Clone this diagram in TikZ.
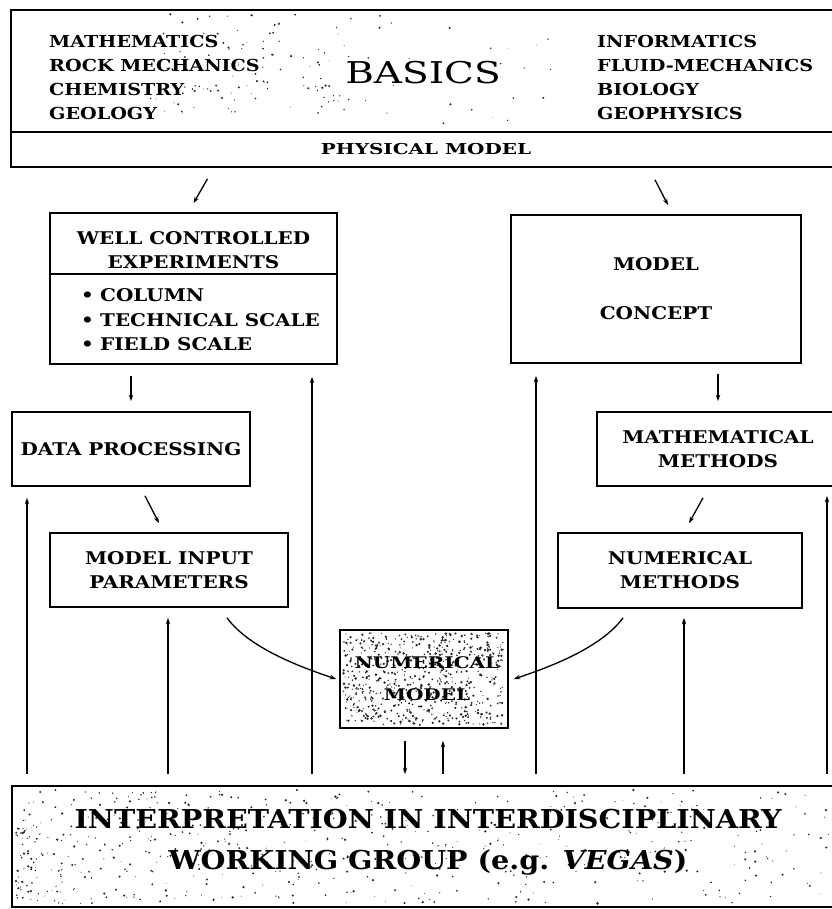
\documentclass[tikz,border=0pt]{standalone}
\usepackage{fontspec}
\setmainfont{DejaVu Serif}
\newfontfamily\lblfont[FakeStretch=1.14]{DejaVu Serif}
\newfontfamily\listfont[FakeStretch=1.16]{DejaVu Serif}
\newfontfamily\physfont[FakeStretch=1.33]{DejaVu Serif}
\newfontfamily\basicsfont[FakeStretch=1.3]{DejaVu Serif}
\newfontfamily\nmfont[FakeStretch=1.25]{DejaVu Serif}
\newfontfamily\bigfont[FakeStretch=1.1]{DejaVu Serif}
\usetikzlibrary{arrows.meta}
\begin{document}
\begin{tikzpicture}[x=1pt,y=-1pt,
  box/.style={draw=black, line width=1.7pt, inner sep=0pt},
  lbl/.style={font=\lblfont\fontsize{17.5}{24}\selectfont\bfseries, align=center, inner sep=0pt},
  arr/.style={line width=1.3pt, -{Stealth[length=6.5pt,width=4.5pt]}},
  dot/.style={fill=black!85}]
\useasboundingbox (0,0) rectangle (831,909);
% boxes
\node[box, minimum width=825pt, minimum height=122pt] (top) at (423.5,71) {};
\node[box, minimum width=825pt, minimum height=35pt, align=center, font=\physfont\fontsize{15}{18}\selectfont\bfseries] (phys) at (423.5,149.5) {\hspace{5pt}PHYSICAL MODEL};
\node[box, minimum width=287pt, minimum height=151pt] (well) at (193.5,288.5) {};
\draw[line width=1.7pt] ([yshift=-62pt]well.north west) -- ([yshift=-62pt]well.north east);
\node[box, minimum width=290pt, minimum height=148pt, lbl] (concept) at (656,289) {MODEL\\[25pt]CONCEPT};
\node[box, minimum width=238pt, minimum height=74pt, lbl] (data) at (131,449) {DATA PROCESSING};
\node[box, minimum width=239pt, minimum height=74pt, lbl] (math) at (716.5,449) {\hspace{3pt}MATHEMATICAL\\\hspace{3pt}METHODS};
\node[box, minimum width=238pt, minimum height=74pt, lbl] (input) at (169,570) {MODEL INPUT\\PARAMETERS};
\node[box, minimum width=244pt, minimum height=75pt, lbl] (nummeth) at (680,570.5) {NUMERICAL\\METHODS};
\node[box, minimum width=168pt, minimum height=98pt] (nummod) at (424,679) {};
\node[box, minimum width=824pt, minimum height=121pt] (bottom) at (424,846.5) {};
% speckles
\pgfmathsetseed{4242}
\foreach \i in {1,...,650} {
  \pgfmathsetmacro\rx{343+160*rnd}
  \pgfmathsetmacro\ry{633+92*rnd}
  \pgfmathsetmacro\rr{0.5+0.9*rnd}
  \fill[dot] (\rx,\ry) circle (\rr pt);
}
\foreach \i in {1,...,560} {
  \pgfmathsetmacro\rx{16+815*(rnd^1.6)}
  \pgfmathsetmacro\ry{790+114*rnd}
  \pgfmathsetmacro\rr{0.4+0.9*rnd}
  \fill[dot] (\rx,\ry) circle (\rr pt);
}
\foreach \i in {1,...,110} {
  \pgfmathsetmacro\rx{150+190*rnd}
  \pgfmathsetmacro\ry{14+100*rnd}
  \pgfmathsetmacro\rr{0.4+0.8*rnd}
  \fill[dot] (\rx,\ry) circle (\rr pt);
}
\foreach \i in {1,...,30} {
  \pgfmathsetmacro\rx{340+240*rnd}
  \pgfmathsetmacro\ry{14+110*rnd}
  \pgfmathsetmacro\rr{0.4+0.7*rnd}
  \fill[dot] (\rx,\ry) circle (\rr pt);
}
% texts
\node[inner sep=0pt, anchor=west, align=left, font=\listfont\fontsize{16.5}{23.7}\selectfont\bfseries] (leftlist) at (49,77.5) {MATHEMATICS\\ROCK MECHANICS\\CHEMISTRY\\GEOLOGY};
\node[inner sep=0pt, anchor=west, align=left, font=\listfont\fontsize{16.5}{23.7}\selectfont\bfseries] (rightlist) at (597,77.5) {INFORMATICS\\FLUID-MECHANICS\\BIOLOGY\\GEOPHYSICS};
\node[inner sep=0pt, font=\basicsfont\fontsize{30}{36}\selectfont] (basics) at (423,73) {BASICS};
\node[lbl] (wellhead) at (193.5,250) {WELL CONTROLLED\\EXPERIMENTS};
\node[lbl, anchor=west, align=left, font=\lblfont\fontsize{17.5}{24.5}\selectfont\bfseries] (welllist) at (81,320) {\makebox[19pt][l]{•}COLUMN\\\makebox[19pt][l]{•}TECHNICAL SCALE\\\makebox[19pt][l]{•}FIELD SCALE};
\node[inner sep=0pt, align=center, font=\nmfont\fontsize{16}{24}\selectfont\bfseries] (nmtext) at (427,679) {NUMERICAL\\[8pt]MODEL};
\node[inner sep=0pt, align=center, font=\bigfont\fontsize{26}{41}\selectfont\bfseries] (interp) at (428,842.5) {INTERPRETATION IN INTERDISCIPLINARY\\WORKING GROUP (e.g. \textit{VEGAS})};
% short arrows
\draw[arr] ([xshift=-216pt,yshift=-11pt]phys.south) -- ([yshift=9pt]well.north);
\draw[arr] ([xshift=231.5pt,yshift=-12pt]phys.south) -- ([xshift=12pt,yshift=9pt]concept.north);
\draw[arr] ([xshift=-62.5pt,yshift=-11pt]well.south) -- ([yshift=10pt]data.north);
\draw[arr] ([xshift=14pt,yshift=-9pt]data.south) -- ([xshift=-10pt,yshift=9pt]input.north);
\draw[arr] ([xshift=62pt,yshift=-10pt]concept.south) -- ([xshift=1.5pt,yshift=10pt]math.north);
\draw[arr] ([xshift=-13.5pt,yshift=-11pt]math.south) -- ([xshift=9pt,yshift=9pt]nummeth.north);
% curves
\draw[arr] ([xshift=58pt,yshift=-10pt]input.south) .. controls +(22pt,-30pt) and +(-36pt,12pt) .. ([xshift=-3pt]nummod.west);
\draw[arr] ([xshift=-57pt,yshift=-9pt]nummeth.south) .. controls +(-22pt,-30pt) and +(36pt,12pt) .. ([xshift=5pt]nummod.east);
% feedback lines
\draw[arr] ([xshift=-397pt,yshift=11pt]bottom.north) -- ([xshift=-104pt,yshift=-11pt]data.south);
\draw[arr] ([xshift=-256pt,yshift=11pt]bottom.north) -- ([xshift=-1pt,yshift=-10pt]input.south);
\draw[arr] ([xshift=-112pt,yshift=11pt]bottom.north) -- ([xshift=118.5pt,yshift=-12pt]well.south);
\draw[arr] ([xshift=-19pt,yshift=-12pt]nummod.south) -- ([xshift=-19pt,yshift=11pt]bottom.north);
\draw[arr] ([xshift=19pt,yshift=11pt]bottom.north) -- ([xshift=19pt,yshift=-12pt]nummod.south);
\draw[arr] ([xshift=112pt,yshift=11pt]bottom.north) -- ([xshift=-120pt,yshift=-12pt]concept.south);
\draw[arr] ([xshift=260pt,yshift=11pt]bottom.north) -- ([xshift=4pt,yshift=-9pt]nummeth.south);
\draw[arr] ([xshift=403pt,yshift=11pt]bottom.north) -- ([xshift=110.5pt,yshift=-9pt]math.south);
\end{tikzpicture}
\end{document}
